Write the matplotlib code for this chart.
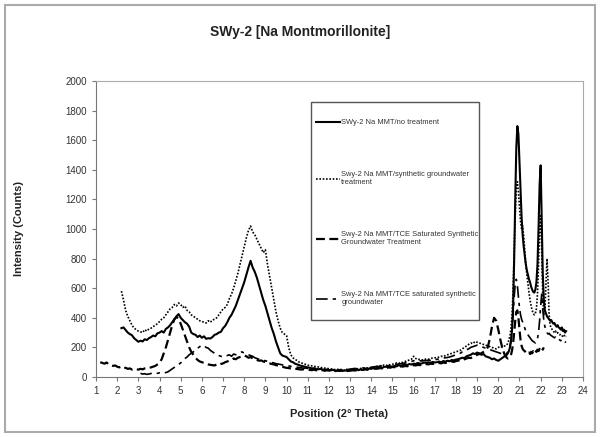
import numpy as np
import matplotlib
matplotlib.use("Agg")
import matplotlib.pyplot as plt
from matplotlib.patches import Rectangle

plt.rcParams['font.family'] = ['Liberation Sans', 'DejaVu Sans']

# each series: broad scan (step 0.1) + peak region (step 0.05 from 20.45)
no_treat_start = 2.2
no_treat_broad = [330, 335, 318, 300, 290, 282, 262, 250, 238,
                  245, 240, 255, 250, 262, 270, 280, 275, 295, 300,
                  310, 300, 325, 335, 350, 370, 390, 410, 425, 400,
                  385, 370, 360, 340, 300, 290, 285, 270, 280, 265,
                  275, 258, 262, 260, 270, 285, 290, 300, 305, 330,
                  345, 370, 400, 420, 450, 480, 520, 560, 600, 640,
                  690, 740, 785, 740, 710, 670, 620, 570, 520, 480,
                  430, 380, 330, 290, 240, 200, 160, 145, 140, 135,
                  120, 105, 100, 90, 85, 80, 75, 72, 68, 65,
                  62, 58, 60, 55, 52, 55, 50, 48, 50, 46,
                  45, 48, 42, 44, 40, 45, 42, 44, 40, 45,
                  48, 44, 50, 46, 52, 48, 55, 50, 58, 55,
                  60, 56, 62, 65, 60, 68, 70, 66, 72, 70,
                  75, 72, 80, 76, 82, 85, 80, 88, 84, 90,
                  88, 95, 90, 92, 98, 94, 100, 96, 102, 98,
                  100, 105, 98, 108, 104, 110, 106, 115, 112, 118,
                  120, 125, 130, 128, 140, 145, 150, 160, 155, 165,
                  160, 150, 155, 140, 135, 130, 120, 125, 115, 110,
                  120, 130, 140, 150]
no_treat_peak = [160, 175, 200, 240, 320, 480, 800, 1200, 1550, 1695, 1640, 1450,
                 1250, 1080, 960, 880, 820, 760, 720, 690, 660, 640,
                 610, 590, 575, 570, 590, 640, 760, 1000, 1300, 1430,
                 1050, 700, 520, 450, 430, 410, 400, 390, 380, 385,
                 370, 360, 365, 350, 340, 350, 335, 330, 320, 335,
                 310, 320, 300, 310]

synth_start = 2.2
synth_broad = [580, 520, 450, 410, 380, 350, 330, 320, 310,
               305, 300, 320, 310, 325, 330, 340, 350, 360, 375,
               390, 400, 420, 440, 460, 470, 490, 480, 500, 490,
               470, 480, 450, 440, 420, 410, 400, 390, 380, 375,
               370, 365, 380, 370, 385, 390, 400, 420, 440, 460,
               470, 490, 530, 560, 600, 650, 700, 760, 820, 880,
               940, 990, 1020, 980, 960, 930, 900, 870, 840, 860,
               760, 680, 600, 520, 440, 380, 330, 300, 290, 280,
               200, 150, 130, 120, 110, 100, 95, 90, 85, 80,
               78, 75, 72, 70, 68, 65, 62, 60, 58, 56,
               55, 52, 50, 52, 48, 50, 46, 48, 45, 48,
               50, 52, 55, 52, 58, 60, 56, 62, 60, 65,
               68, 70, 72, 75, 78, 80, 76, 84, 82, 86,
               90, 95, 92, 100, 98, 105, 110, 115, 120, 140,
               125, 118, 120, 115, 118, 122, 120, 125, 128, 130,
               130, 135, 140, 138, 145, 150, 155, 160, 165, 170,
               175, 180, 190, 200, 210, 220, 230, 225, 240, 235,
               230, 225, 220, 215, 210, 205, 200, 195, 190, 200,
               205, 200, 210, 215]
synth_peak = [230, 250, 280, 330, 420, 600, 850, 1100, 1280, 1320, 1250, 1150,
              1050, 1000, 1020, 950, 850, 760, 690, 630, 570, 520,
              480, 450, 430, 420, 430, 460, 560, 760, 1000, 1100,
              850, 550, 420, 450, 620, 800, 650, 420, 350, 330,
              320, 310, 300, 310, 295, 300, 290, 285, 290, 280,
              275, 285, 270, 275]

tce_treat_start = 1.2
tce_treat_broad = [100, 95, 90, 98, 85, 80, 75, 78, 70,
                   65, 70, 60, 62, 55, 58, 50, 55, 52, 50,
                   55, 52, 58, 60, 62, 65, 70, 75, 85, 95,
                   120, 160, 200, 250, 300, 350, 390, 405, 395, 360,
                   320, 280, 240, 200, 170, 150, 130, 115, 105, 100,
                   95, 90, 85, 82, 80, 78, 85, 80, 88, 92,
                   100, 105, 110, 115, 125, 120, 130, 135, 140, 145,
                   140, 130, 135, 125, 120, 115, 110, 112, 105, 100,
                   95, 92, 88, 85, 80, 78, 72, 70, 65, 62,
                   60, 58, 56, 55, 54, 52, 50, 52, 50, 48,
                   48, 46, 50, 45, 47, 44, 46, 42, 45, 44,
                   42, 44, 40, 43, 41, 44, 40, 42, 45, 43,
                   45, 47, 44, 48, 50, 47, 52, 50, 54, 52,
                   55, 58, 56, 60, 58, 62, 60, 65, 63, 68,
                   66, 70, 68, 72, 70, 75, 72, 78, 75, 80,
                   78, 82, 80, 85, 82, 88, 85, 90, 88, 92,
                   90, 95, 92, 98, 95, 100, 98, 105, 102, 108,
                   110, 115, 112, 120, 125, 130, 128, 135, 140, 150,
                   155, 160, 170, 180, 200, 260, 340, 400, 380, 320,
                   250, 190, 150, 130]
tce_treat_peak = [125, 130, 135, 150, 180, 230, 300, 380, 440, 450, 400, 320,
                  250, 210, 190, 180, 175, 165, 170, 160, 165, 155,
                  170, 160, 175, 165, 180, 170, 185, 175, 190, 180,
                  195, 185, 200]

tce_gw_start = 3.1
tce_gw_broad = [25, 20, 22, 18, 20, 24, 20, 22, 25, 28,
                24, 28, 30, 35, 45, 55, 65, 75, 85, 95,
                110, 125, 135, 150, 160, 170, 185, 195, 205, 215,
                210, 200, 195, 180, 170, 160, 150, 145, 140, 135,
                140, 145, 150, 140, 155, 150, 160, 165, 170, 160,
                155, 150, 145, 140, 130, 125, 120, 115, 112, 110,
                105, 100, 98, 95, 90, 88, 85, 82, 80, 78,
                75, 72, 70, 68, 66, 64, 62, 60, 60, 58,
                56, 55, 54, 52, 52, 50, 50, 48, 50, 48,
                48, 50, 47, 50, 48, 52, 50, 53, 50, 54,
                55, 58, 56, 60, 58, 62, 60, 64, 62, 66,
                68, 70, 72, 70, 75, 74, 78, 76, 80, 82,
                84, 86, 88, 90, 92, 95, 98, 100, 105, 110,
                108, 106, 110, 108, 112, 110, 115, 112, 118, 115,
                120, 122, 125, 128, 130, 132, 135, 140, 145, 150,
                155, 160, 170, 175, 185, 190, 200, 205, 210, 215,
                210, 205, 200, 195, 190, 185, 180, 175, 170, 165,
                160, 155, 150, 160]
tce_gw_peak = [170, 185, 210, 250, 320, 420, 540, 630, 660, 620, 540, 470,
               420, 390, 370, 350, 330, 310, 300, 285, 275, 265,
               255, 245, 240, 235, 230, 240, 260, 300, 380, 480,
               560, 460, 380, 340, 320, 300, 290, 295, 285, 280,
               275, 270, 265, 270, 260, 255, 260, 250, 245, 250,
               240, 245, 235, 240]

labels = ["SWy-2 Na MMT/no treatment",
          "Swy-2 Na MMT/synthetic groundwater\ntreatment",
          "Swy-2 Na MMT/TCE Saturated Synthetic\nGroundwater Treatment",
          "Swy-2 Na MMT/TCE saturated synthetic\ngroundwater"]

PEAK_START = 20.45


def build(start, broad, peak):
    x1 = start + 0.1 * np.arange(len(broad))
    x2 = PEAK_START + 0.05 * np.arange(len(peak))
    return np.concatenate([x1, x2]), np.concatenate([broad, peak])


fig = plt.figure(figsize=(6, 4.37), dpi=100)
ax = fig.add_axes([96 / 600, 1 - 377 / 437, 487 / 600, 296 / 437])

styles = [dict(linestyle="-", linewidth=1.5),
          dict(linestyle=(0, (1, 1)), linewidth=1.2),
          dict(linestyle=(0, (4, 2)), linewidth=1.6),
          dict(linestyle=(0, (7, 3, 2, 3)), linewidth=1.2)]
series = [(no_treat_start, no_treat_broad, no_treat_peak),
          (synth_start, synth_broad, synth_peak),
          (tce_treat_start, tce_treat_broad, tce_treat_peak),
          (tce_gw_start, tce_gw_broad, tce_gw_peak)]

for (start, broad, peak), style, label in zip(series, styles, labels):
    x, y = build(start, broad, peak)
    ax.plot(x, y, color="black", label=label, **style)

ax.set_xlim(1, 24)
ax.set_ylim(0, 2000)
ax.set_xticks(range(1, 25))
ax.set_yticks(range(0, 2001, 200))
ax.tick_params(labelsize=7, colors="#333333", length=3, width=0.8)
ax.tick_params(axis="both", color="#777777")
for side in ["left", "bottom"]:
    ax.spines[side].set_color("#777777")
for side in ["top", "right"]:
    ax.spines[side].set_color("#aaaaaa")

ax.set_xlabel("Position (2° Theta)", fontsize=8, fontweight="bold", color="#222222", labelpad=9)
ax.set_ylabel("Intensity (Counts)", fontsize=8, fontweight="bold", color="#222222", labelpad=30)
fig.text(0.5, 1 - 32 / 437, "SWy-2 [Na Montmorillonite]", ha="center", va="center",
         fontsize=10, fontweight="bold", color="#222222")

# legend box drawn separately so the padding matches the Excel layout
ax.add_patch(Rectangle((0.4415, 0.1926), 0.345, 0.7365, transform=ax.transAxes,
                       facecolor="white", edgecolor="#555555", linewidth=1.0, zorder=4))
leg = ax.legend(loc="upper left", bbox_to_anchor=(0.452, 0.872), fontsize=5.4,
                frameon=False, labelspacing=6.0, handlelength=3.2, handletextpad=0.15,
                borderpad=0, borderaxespad=0)
leg.set_zorder(5)
for t in leg.get_texts():
    t.set_color("#333333")

fig.patches.append(Rectangle((5 / 600, 5 / 437), 590 / 600, 427 / 437, transform=fig.transFigure,
                             fill=False, edgecolor="#aaaaaa", linewidth=1.5))

fig.savefig("out.png", dpi=100)
